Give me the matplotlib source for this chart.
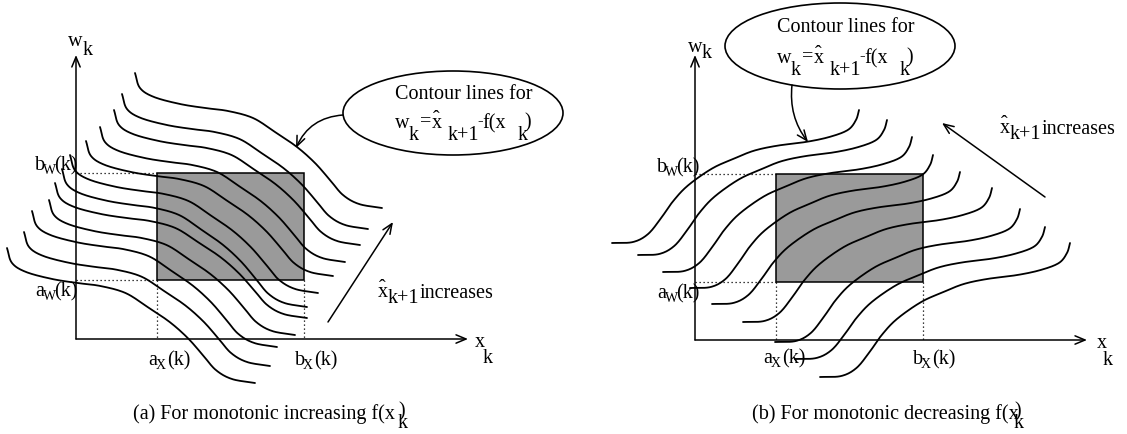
import matplotlib.pyplot as plt
from matplotlib.patches import Ellipse, Rectangle
import numpy as np

plt.rcParams['font.family'] = ['Liberation Serif', 'DejaVu Serif']

# shape of one contour line, as offsets from its first point
shape_a_dx = [0, 5, 19, 45, 70, 93, 118, 140, 162, 180, 195, 208, 224, 247]
shape_a_dy = [0, 15, 24, 31, 35, 38, 45, 59, 74, 90, 107, 122, 131, 135]
shape_b_dx = [0, 21, 36, 49, 61, 76, 100, 122, 142, 165, 195, 218, 236, 244, 247]
shape_b_dy = [0, -1, -9, -25, -42, -58, -75, -85, -93, -98, -102, -107, -114, -124, -134]

# first and last point of every contour line (pixel space)
starts_a = [(135, 73), (122, 94), (114, 110), (100, 127), (86, 141), (70, 155),
            (62, 169), (55, 183), (49, 200), (32, 211), (24, 232), (7, 248)]
ends_a = [(382, 208), (368, 229), (360, 245), (345, 262), (333, 276), (318, 293),
          (307, 307), (307, 318), (295, 335), (277, 347), (270, 366), (255, 383)]
starts_b = [(612, 243), (638, 255), (663, 272), (690, 288), (712, 304),
            (743, 322), (775, 342), (795, 359), (820, 377)]
ends_b = [(859, 110), (887, 120), (912, 137), (933, 155), (960, 172),
          (992, 188), (1020, 209), (1045, 227), (1070, 243)]

# origin of each panel and the box [a_x, b_x] x [a_w, b_w]
origin_a = (76, 339)
origin_b = (695, 340)
box_a = (157, 304, 280, 173)
box_b = (776, 923, 282, 174)


def catmull(xs, ys, n=16):
    pts = np.column_stack([xs, ys]).astype(float)
    pts = np.vstack([2 * pts[0] - pts[1], pts, 2 * pts[-1] - pts[-2]])
    t = np.linspace(0, 1, n, endpoint=False)[:, None]
    out = []
    for i in range(1, len(pts) - 2):
        p0, p1, p2, p3 = pts[i - 1:i + 3]
        out.append(0.5 * (2 * p1 + (p2 - p0) * t
                          + (2 * p0 - 5 * p1 + 4 * p2 - p3) * t ** 2
                          + (3 * p1 - p0 - 3 * p2 + p3) * t ** 3))
    out.append(pts[-2][None])
    return np.vstack(out)


def contour_lines(ax, dx, dy, starts, ends):
    dx = np.asarray(dx, float)
    dy = np.asarray(dy, float)
    for (sx, sy), (ex, ey) in zip(starts, ends):
        x = sx + dx / dx[-1] * (ex - sx)
        y = sy + dy / dy[-1] * (ey - sy)
        p = catmull(x, y)
        ax.plot(p[:, 0], p[:, 1], color='k', lw=1.3, zorder=3,
                solid_capstyle='round', solid_joinstyle='round')


def put(ax, x, y, s, size=14.5):
    ax.text(x, y, s, fontsize=size, ha='left', va='baseline', color='k', zorder=4)


def arrow(ax, tail, tip, rad=0.0, scale=12):
    ax.annotate('', xy=tip, xytext=tail,
                arrowprops=dict(arrowstyle='->,head_length=0.6,head_width=0.25',
                                lw=1.1, color='k', shrinkA=0, shrinkB=0,
                                mutation_scale=scale,
                                connectionstyle='arc3,rad=%g' % rad))


def frame(ax, origin, top, right, box):
    x0, y0 = origin
    arrow(ax, (x0, y0), (x0, top))
    arrow(ax, (x0, y0), (right, y0))
    ax0, bx0, aw0, bw0 = box
    ax.add_patch(Rectangle((ax0, bw0), bx0 - ax0, aw0 - bw0, facecolor='#9a9a9a',
                           edgecolor='k', lw=1.1, zorder=1))
    dot = dict(color='k', lw=0.9, ls=(0, (1, 2.2)), zorder=1)
    ax.plot([x0, ax0], [bw0, bw0], **dot)
    ax.plot([x0, ax0], [aw0, aw0], **dot)
    ax.plot([ax0, ax0], [aw0, y0], **dot)
    ax.plot([bx0, bx0], [aw0, y0], **dot)


def bound_label(ax, x, y, a, sub):
    put(ax, x, y, a)
    put(ax, x + 8, y + 4, sub, 10)
    put(ax, x + 19, y, '(k)')


def formula(ax, x, y):
    put(ax, x, y, 'w')
    put(ax, x + 14, y + 12, 'k')
    put(ax, x + 25, y - 2, '=')
    put(ax, x + 37, y, 'x')
    put(ax, x + 38, y - 3, '\u02c6')
    put(ax, x + 53, y + 12, 'k+1')
    put(ax, x + 82, y - 3, '-', 12)
    put(ax, x + 87, y, 'f(x')
    put(ax, x + 123, y + 12, 'k')
    put(ax, x + 129, y - 1, ')')


def increases(ax, x, y):
    put(ax, x, y, 'x')
    put(ax, x + 1, y - 3, '\u02c6')
    put(ax, x + 10, y + 6, 'k+1')
    put(ax, x + 42, y + 1, 'increases')


fig = plt.figure(figsize=(11.27, 4.34), dpi=100)
ax = fig.add_axes([0, 0, 1, 1])
ax.set_xlim(0, 1127)
ax.set_ylim(434, 0)
ax.axis('off')

# (a) increasing f
frame(ax, origin_a, 55, 468, box_a)
contour_lines(ax, shape_a_dx, shape_a_dy, starts_a, ends_a)
put(ax, 68, 46, 'w')
put(ax, 83, 55, 'k')
bound_label(ax, 35, 170, 'b', 'W')
bound_label(ax, 35, 296, 'a', 'W')
bound_label(ax, 148, 365, 'a', 'X')
bound_label(ax, 295, 365, 'b', 'X')
put(ax, 475, 347, 'x')
put(ax, 483, 363, 'k')
arrow(ax, (328, 322), (393, 222))
increases(ax, 378, 297)
ax.add_patch(Ellipse((453, 113), 220, 84, fill=False, edgecolor='k', lw=1.2))
put(ax, 395, 99, 'Contour lines for')
formula(ax, 395, 128)
arrow(ax, (343, 115), (296, 148), rad=0.3)
put(ax, 133, 419, '(a) For monotonic increasing f(x')
put(ax, 398, 416, ')')
put(ax, 398, 428, 'k')

# (b) decreasing f
frame(ax, origin_b, 55, 1087, box_b)
contour_lines(ax, shape_b_dx, shape_b_dy, starts_b, ends_b)
put(ax, 688, 52, 'w')
put(ax, 702, 58, 'k')
bound_label(ax, 657, 172, 'b', 'W')
bound_label(ax, 657, 298, 'a', 'W')
bound_label(ax, 763, 363, 'a', 'X')
bound_label(ax, 913, 364, 'b', 'X')
put(ax, 1097, 348, 'x')
put(ax, 1103, 365, 'k')
arrow(ax, (1045, 197), (942, 123))
increases(ax, 1000, 133)
ax.add_patch(Ellipse((840, 46), 230, 86, fill=False, edgecolor='k', lw=1.2))
put(ax, 777, 32, 'Contour lines for')
formula(ax, 777, 63)
arrow(ax, (792, 85), (808, 142), rad=0.2)
put(ax, 752, 419, '(b) For monotonic decreasing f(x')
put(ax, 1014, 416, ')')
put(ax, 1014, 428, 'k')

fig.savefig('out.png', dpi=100)
